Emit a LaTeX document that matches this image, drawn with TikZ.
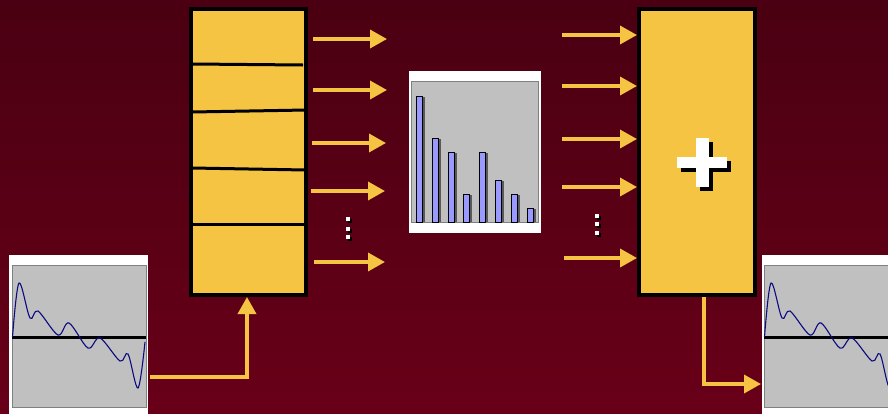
\documentclass[tikz,border=0pt]{standalone}
\usetikzlibrary{arrows.meta}
\definecolor{bgtop}{RGB}{74,0,18}
\definecolor{bgbot}{RGB}{104,0,24}
\definecolor{gold}{RGB}{244,196,66}
\definecolor{plotgray}{RGB}{192,192,192}
\definecolor{framegray}{RGB}{128,128,128}
\definecolor{barblue}{RGB}{153,153,255}
\definecolor{wavecol}{RGB}{10,10,130}
\tikzset{
  block/.style={draw=black, fill=gold, line width=3.5pt, inner sep=0pt, outer sep=0pt, anchor=north west},
  divider/.style={draw=black, line width=3pt},
  arr/.style={draw=gold, line width=3.5pt, -{Triangle[length=17pt,width=18pt]}},
  panel/.style={fill=white, draw=none, inner sep=0pt, outer sep=0pt, anchor=north west},
  plotarea/.style={fill=plotgray, draw=framegray, line width=1pt},
  zeroline/.style={draw=black, line width=3pt},
  wave/.style={draw=wavecol, line width=1.1pt},
  bar/.style={fill=barblue, draw=black, line width=1pt},
  barshadow/.style={fill=black!65, draw=none},
  dotsq/.style={fill=white, draw=none},
  dotshadow/.style={fill=black, draw=none}
}
% one period of the signal, drawn from the left edge (0) of a plot area
\newcommand{\signalpath}{%
  plot[smooth, tension=0.55] coordinates {
    (0.5,337) (7,283) (18,318) (26,311) (46,335) (57,323) (76,348)
    (88,338) (108,361) (116,354) (126,388) (133,342)}}
\begin{document}
\begin{tikzpicture}[x=1pt,y=-1pt]
\useasboundingbox (0,0) rectangle (888,413);
\clip (0,0) rectangle (888,413);
% background
\shade[top color=bgtop, bottom color=bgbot] (0,0) rectangle (888,413);

% ---------- input signal ----------
\node[panel, minimum width=139pt, minimum height=160pt] (wavein) at (9,255) {};
\draw[plotarea] (12,265) rectangle (146,407);
\draw[zeroline] (12,337) -- (146,337);
\begin{scope}[shift={(12,0)}]
  \draw[wave] \signalpath;
\end{scope}

% ---------- filter bank ----------
\node[block, minimum width=115pt, minimum height=286pt] (bank) at (191,9) {};
\draw[divider] (192,64) -- (303,65);
\draw[divider] (192,112) -- (306,110);
\draw[divider] (192,168) -- (306,170);
\draw[divider] (192,224) -- (306,224);

% ---------- spectrum ----------
\node[panel, minimum width=132pt, minimum height=162pt] (spec) at (409,71) {};
\draw[plotarea] (411,81) rectangle (538,222);
\foreach \xl/\top in {416/96, 432/138, 448/152, 463/194, 479/152, 495/180, 511/194, 527/208}{
  \fill[barshadow] (\xl+6,\top+1) rectangle (\xl+8.5,222);
  \draw[bar] (\xl,\top) rectangle (\xl+6.5,222);
}

% ---------- summation block ----------
\node[block, minimum width=116pt, minimum height=286pt] (sum) at (639,9) {};
\fill[black] (700,142) rectangle (713,191);
\fill[black] (681,161) rectangle (731,172);
\fill[white] (696,138) rectangle (709,187);
\fill[white] (677,157) rectangle (727,168);

% ---------- output signal ----------
\node[panel, minimum width=128pt, minimum height=160pt] (waveout) at (762,255) {};
\draw[plotarea] (764,265) rectangle (900,407);
\draw[zeroline] (764,337) -- (890,337);
\begin{scope}[shift={(764,0)}]
  \draw[wave] \signalpath;
\end{scope}

% ---------- band outputs ----------
\coordinate (b1s) at (313,39);  \coordinate (b1e) at (387,39);
\coordinate (b2s) at (313,90);  \coordinate (b2e) at (387,90);
\coordinate (b3s) at (312,143); \coordinate (b3e) at (386,143);
\coordinate (b4s) at (311,191); \coordinate (b4e) at (385,191);
\coordinate (b5s) at (314,262); \coordinate (b5e) at (385,262);
\foreach \k in {1,...,5}{ \draw[arr] (b\k s) -- (b\k e); }

% ---------- band inputs to the sum ----------
\coordinate (s1s) at (562,35);  \coordinate (s1e) at (637,35);
\coordinate (s2s) at (562,86);  \coordinate (s2e) at (637,86);
\coordinate (s3s) at (562,139); \coordinate (s3e) at (637,139);
\coordinate (s4s) at (562,187); \coordinate (s4e) at (637,187);
\coordinate (s5s) at (564,258); \coordinate (s5e) at (637,258);
\foreach \k in {1,...,5}{ \draw[arr] (s\k s) -- (s\k e); }

% vertical ellipses
\foreach \x/\y in {346/217, 346/227, 346/235, 595/214, 595/222, 595/231}{
  \fill[dotshadow] (\x+1.5,\y+1.5) rectangle (\x+5.5,\y+5.5);
  \fill[dotsq] (\x,\y) rectangle (\x+4,\y+4);
}

% ---------- signal routing ----------
\coordinate (inS) at (150,377);
\coordinate (inT) at (247,297);
\draw[arr] (inS) -| (inT);
\coordinate (outS) at (704,297);
\coordinate (outT) at (761,384);
\draw[arr] (outS) |- (outT);
\end{tikzpicture}
\end{document}
